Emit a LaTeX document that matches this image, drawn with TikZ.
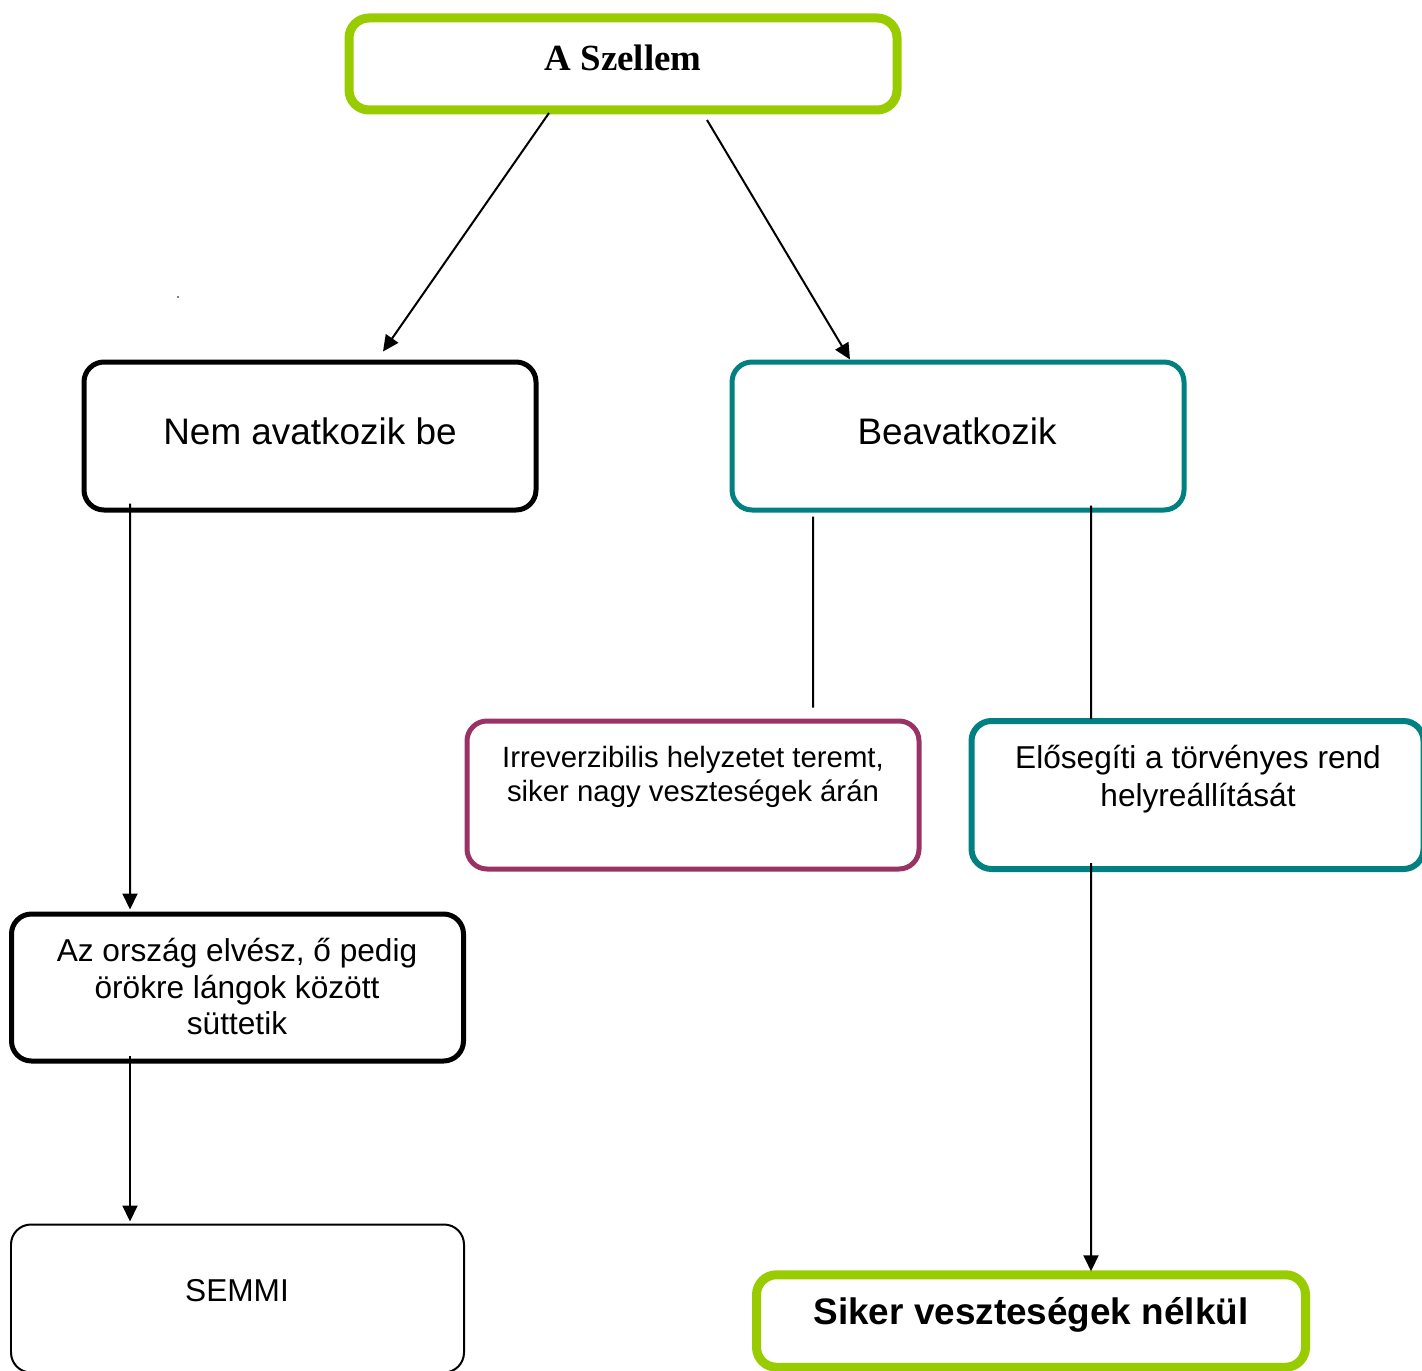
\documentclass[tikz,border=0pt]{standalone}
\usepackage{fontspec}
\setmainfont{Liberation Sans}
\newfontfamily\timesfont{Liberation Serif}
\usetikzlibrary{arrows.meta}

\definecolor{zold}{HTML}{99CC00}
\definecolor{turkiz}{HTML}{008080}
\definecolor{bordo}{HTML}{993366}

\tikzset{
  doboz/.style={draw, rounded corners=0.4cm, line width=0.1cm, outer sep=0pt,
    inner sep=0pt, minimum width=9.04cm, minimum height=2.96cm},
  keret/.style={doboz, line width=0.18cm, color=zold, minimum width=10.96cm,
    minimum height=1.84cm},
  szoveg/.style={align=center, inner sep=0pt},
  nyil/.style={line width=0.04cm, -{Triangle[length=0.32cm,width=0.3cm]}},
  vonal/.style={line width=0.04cm}
}

\begin{document}
\begin{tikzpicture}
    \useasboundingbox (0,0) rectangle (28.44,-27.4);
    \clip (0,0) rectangle (28.44,-27.4);

    \node[keret] (szellem) at (12.46,-1.28) {};
    \node[szoveg, font=\timesfont\bfseries\fontsize{21}{24}\selectfont] (szellemtxt)
      at (12.46,-1.16) {A Szellem};

    \node[doboz] (nem) at (6.2,-8.72) {};
    \node[szoveg, font=\fontsize{21}{24}\selectfont] (nemtxt)
      at (6.2,-8.62) {Nem avatkozik be};

    \node[doboz, color=turkiz] (beav) at (19.16,-8.72) {};
    \node[szoveg, font=\fontsize{21}{24}\selectfont] (beavtxt)
      at (19.14,-8.62) {Beavatkozik};

    \node[doboz, color=bordo] (irrev) at (13.86,-15.9) {};
    \node[szoveg, font=\fontsize{16.7}{19.3}\selectfont] (irrevtxt)
      at (13.86,-15.53) {Irreverzibilis helyzetet teremt,\\ siker nagy veszteségek árán};

    \node[doboz, color=turkiz, line width=0.12cm] (elo) at (23.95,-15.9) {};
    \node[szoveg, font=\fontsize{18}{21.5}\selectfont] (elotxt)
      at (23.96,-15.59) {Elősegíti a törvényes rend\\ helyreállítását};

    \node[doboz, minimum width=9.04cm, minimum height=2.94cm] (az) at (4.75,-19.75) {};
    \node[szoveg, font=\fontsize{18}{20.8}\selectfont] (aztxt)
      at (4.74,-19.73) {Az ország elvész, ő pedig\\ örökre lángok között\\ süttetik};

    \node[doboz, line width=0.04cm, minimum width=9.06cm] (semmi) at (4.75,-25.97) {};
    \node[szoveg, font=\fontsize{18}{21}\selectfont] (semmitxt)
      at (4.74,-25.82) {SEMMI};

    \node[keret, minimum width=10.98cm, minimum height=1.85cm] (siker) at (20.62,-26.42) {};
    \node[szoveg, font=\bfseries\fontsize{21}{24}\selectfont] (sikertxt)
      at (20.62,-26.3) {Siker veszteségek nélkül};

    \node[circle, fill, inner sep=0.35pt] (pont) at (3.56,-5.94) {};

    \draw[nyil] ([xshift=-1.48cm,yshift=-0.06cm]szellem.south) -- ([xshift=1.46cm,yshift=0.21cm]nem.north);
    \draw[nyil] ([xshift=1.68cm,yshift=-0.2cm]szellem.south) -- ([xshift=-2.16cm,yshift=0.05cm]beav.north);
    \draw[nyil] ([xshift=-3.6cm,yshift=0.13cm]nem.south) -- ([xshift=-2.15cm,yshift=0.09cm]az.north);
    \draw[vonal] ([xshift=-2.9cm,yshift=-0.13cm]beav.south) -- ([xshift=2.4cm,yshift=0.27cm]irrev.north);
    \draw[vonal] ([xshift=2.66cm,yshift=0.09cm]beav.south) -- ([xshift=-2.13cm,yshift=0.04cm]elo.north);
    \draw[nyil] ([xshift=-2.15cm,yshift=0.11cm]az.south) -- ([xshift=-2.15cm,yshift=0.06cm]semmi.north);
    \draw[nyil] ([xshift=-2.13cm,yshift=0.12cm]elo.south) -- ([xshift=1.2cm,yshift=0.07cm]siker.north);
\end{tikzpicture}
\end{document}
